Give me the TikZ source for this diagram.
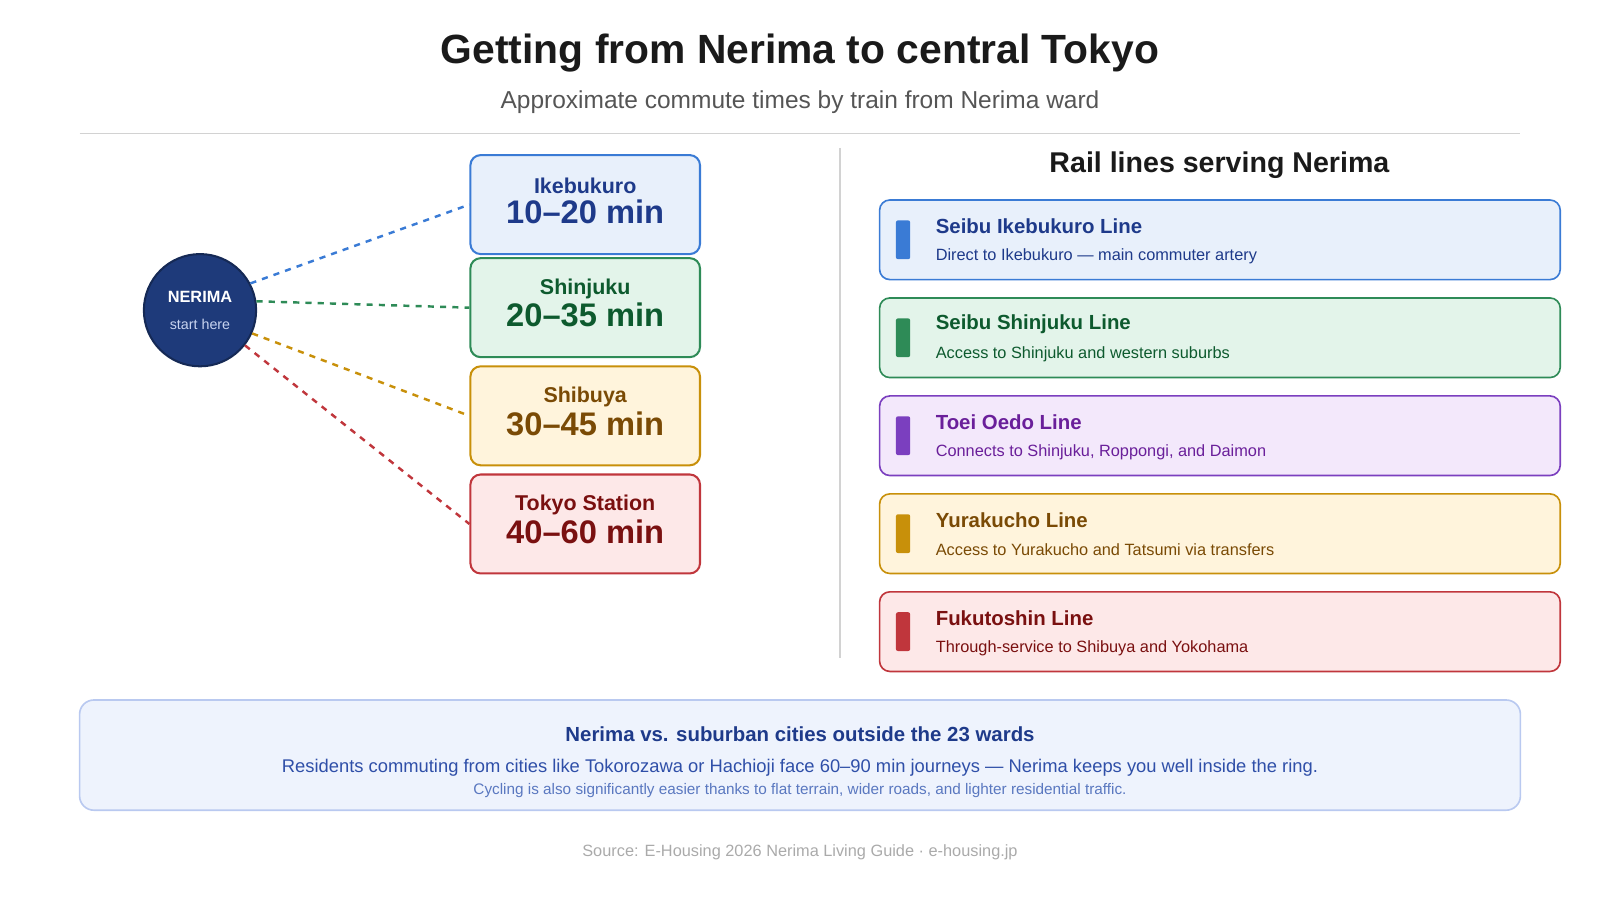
\documentclass[tikz,border=0pt]{standalone}
\usepackage{fontspec}
\setmainfont{Liberation Sans}
\usetikzlibrary{positioning}
\definecolor{navy}{HTML}{1E3A7A}
\definecolor{ikeB}{HTML}{3A7BD5}\definecolor{ikeF}{HTML}{E8F0FB}\definecolor{ikeT}{HTML}{1E3A8A}
\definecolor{shiB}{HTML}{2E8B57}\definecolor{shiF}{HTML}{E3F4EA}\definecolor{shiT}{HTML}{0D5A2E}
\definecolor{shbB}{HTML}{C8900A}\definecolor{shbF}{HTML}{FFF4DC}\definecolor{shbT}{HTML}{7A4A05}
\definecolor{tokB}{HTML}{C0363C}\definecolor{tokF}{HTML}{FDE8E8}\definecolor{tokT}{HTML}{7A1010}
\definecolor{oedB}{HTML}{7B3FBF}\definecolor{oedF}{HTML}{F3E8FB}\definecolor{oedT}{HTML}{6A1F9A}
\definecolor{noteF}{HTML}{EEF3FD}\definecolor{noteB}{HTML}{B9C9F0}
\tikzset{
  dest/.style={draw=#1B, fill=#1F, text=#1T, rounded corners=5pt, line width=1pt,
    minimum width=112.5pt, minimum height=48.5pt, inner sep=0pt},
  destname/.style={text=#1T, font=\bfseries\fontsize{10.5}{12}\selectfont},
  desttime/.style={text=#1T, font=\bfseries\fontsize{16}{18}\selectfont},
  rail/.style={draw=#1B, fill=#1F, rounded corners=5pt, line width=0.8pt,
    minimum width=333.5pt, minimum height=39pt, inner sep=0pt},
  railbar/.style={fill=#1B, rounded corners=1pt, minimum width=7pt, minimum height=19pt, inner sep=0pt},
  railname/.style={anchor=west, text=#1T, font=\bfseries\fontsize{10}{12}\selectfont},
  raildesc/.style={anchor=west, text=#1T, font=\fontsize{8}{10}\selectfont},
  link/.style={dashed, line width=1.2pt, draw=#1B}
}
\begin{document}
\begin{tikzpicture}[x=0.5pt,y=-0.5pt]
\useasboundingbox (0,0) rectangle (1568,882);
% header
\node (title) at (784,52) {\bfseries\fontsize{20}{24}\selectfont\color[HTML]{1A1A1A} Getting from Nerima to central Tokyo};
\node (subtitle) at (784,100) {\fontsize{12}{14}\selectfont\color[HTML]{555555} Approximate commute times by train from Nerima ward};
\draw[gray!35, line width=0.8pt] (78,131) -- (1490,131);
\draw[gray!35, line width=0.8pt] (823,145) -- (823,645);

% left: destinations
\node[circle, fill=navy, draw=navy!70!black, line width=1pt, minimum size=55pt, align=center, text=white] (nerima) at (196,304)
  {{\bfseries\fontsize{8}{10}\selectfont NERIMA}\\[1pt]{\fontsize{7}{9}\selectfont\color[HTML]{C8D4F0} start here}};
\node[dest=ike] (ike) at (573.5,200.5) {};
\node[dest=shi] (shi) at (573.5,301.5) {};
\node[dest=shb] (shb) at (573.5,407.5) {};
\node[dest=tok] (tok) at (573.5,513.5) {};
\node[destname=ike] (ikename) at (573.5,182) {Ikebukuro};
\node[desttime=ike] (iketime) at (573.5,208) {10–20 min};
\node[destname=shi] (shiname) at (573.5,283) {Shinjuku};
\node[desttime=shi] (shitime) at (573.5,309) {20–35 min};
\node[destname=shb] (shbname) at (573.5,389) {Shibuya};
\node[desttime=shb] (shbtime) at (573.5,415) {30–45 min};
\node[destname=tok] (tokname) at (573.5,495) {Tokyo Station};
\node[desttime=tok] (toktime) at (573.5,521) {40–60 min};

\draw[link=ike] (nerima.28) -- (ike.west);
\draw[link=shi] (nerima.9) -- (shi.west);
\draw[link=shb] (nerima.-24) -- (shb.west);
\draw[link=tok] (nerima.-38) -- (tok.west);

% right: rail lines
\node (railhead) at (1195,162) {\bfseries\fontsize{14}{16}\selectfont\color[HTML]{1A1A1A} Rail lines serving Nerima};
\node[rail=ike] (r1) at (1195.5,235) {};
\node[rail=shi] (r2) at (1195.5,331) {};
\node[rail=oed] (r3) at (1195.5,427) {};
\node[rail=shb] (r4) at (1195.5,523) {};
\node[rail=tok] (r5) at (1195.5,619) {};
\node[railbar=ike] (b1) at (885,235) {};
\node[railbar=shi] (b2) at (885,331) {};
\node[railbar=oed] (b3) at (885,427) {};
\node[railbar=shb] (b4) at (885,523) {};
\node[railbar=tok] (b5) at (885,619) {};
\node[railname=ike] (n1) at (910,222) {Seibu Ikebukuro Line};
\node[raildesc=ike] (d1) at (910,251) {Direct to Ikebukuro — main commuter artery};
\node[railname=shi] (n2) at (910,318) {Seibu Shinjuku Line};
\node[raildesc=shi] (d2) at (910,347) {Access to Shinjuku and western suburbs};
\node[railname=oed] (n3) at (910,414) {Toei Oedo Line};
\node[raildesc=oed] (d3) at (910,443) {Connects to Shinjuku, Roppongi, and Daimon};
\node[railname=shb] (n4) at (910,510) {Yurakucho Line};
\node[raildesc=shb] (d4) at (910,539) {Access to Yurakucho and Tatsumi via transfers};
\node[railname=tok] (n5) at (910,606) {Fukutoshin Line};
\node[raildesc=tok] (d5) at (910,635) {Through-service to Shibuya and Yokohama};

% bottom note
\draw[draw=noteB, fill=noteF, rounded corners=7pt, line width=0.8pt] (78,686) rectangle (1490,794);
\node (nhead) at (784,720) {\bfseries\fontsize{10}{12}\selectfont\color[HTML]{1E3A8A} Nerima vs. suburban cities outside the 23 wards};
\node (nbody) at (784,752) {\fontsize{9}{11}\selectfont\color[HTML]{2F4FA8} Residents commuting from cities like Tokorozawa or Hachioji face 60–90 min journeys — Nerima keeps you well inside the ring.};
\node (nsmall) at (784,775) {\fontsize{7.5}{9}\selectfont\color[HTML]{5A78C0} Cycling is also significantly easier thanks to flat terrain, wider roads, and lighter residential traffic.};
\node (source) at (784,835) {\fontsize{8}{10}\selectfont\color[HTML]{AAAAAA} Source: E-Housing 2026 Nerima Living Guide · e-housing.jp};
\end{tikzpicture}
\end{document}
